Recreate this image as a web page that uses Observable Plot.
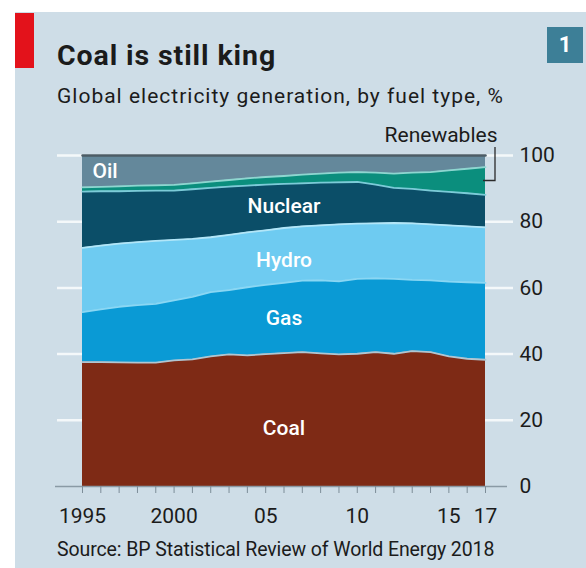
<!DOCTYPE html>
<html><head><meta charset="utf-8">
<script src="https://cdn.jsdelivr.net/npm/d3@7"></script>
<script src="https://cdn.jsdelivr.net/npm/@observablehq/plot@0.6"></script>
<style>
body{margin:0;background:#fff;font-family:Roboto,"Noto Sans",sans-serif;color:#1b1b1b;}
#wrap{position:relative;width:586px;height:568px;overflow:hidden;background:#fff;}
#panel{position:absolute;left:15px;top:12px;right:0;bottom:0;background:#cedde7;}
#redbar{position:absolute;left:15px;top:13px;width:19px;height:55px;background:#e3121b;}
#num{position:absolute;left:547px;top:27px;width:36px;height:36px;background:#3d7f97;color:#fff;font-weight:700;font-size:22px;line-height:36px;text-align:center;}
#title{position:absolute;left:57px;top:42px;font-size:28.5px;font-weight:700;line-height:1;white-space:nowrap;letter-spacing:0.9px;}
#sub{position:absolute;left:57px;top:86px;font-size:21px;line-height:1;white-space:nowrap;letter-spacing:1px;}
#chart{position:absolute;left:0;top:110px;}
#source{position:absolute;left:57px;top:540px;font-size:19.5px;line-height:1;white-space:nowrap;letter-spacing:-0.1px;}
</style></head><body>
<div id="wrap">
<div id="panel"></div>
<div id="redbar"></div>
<div id="num">1</div>
<div id="title">Coal is still king</div>
<div id="sub">Global electricity generation, by fuel type, %</div>
<div id="chart"></div>
<div id="source">Source: BP Statistical Review of World Energy 2018</div>
</div>
<script>
const years = [1995,1996,1997,1998,1999,2000,2001,2002,2003,2004,2005,2006,2007,2008,2009,2010,2011,2012,2013,2014,2015,2016,2017];
const fuels = ["Coal","Gas","Hydro","Nuclear","Renewables","Oil"];
const coal       = [37.6,37.6,37.5,37.4,37.4,38.1,38.4,39.3,39.9,39.6,40.0,40.3,40.6,40.2,39.9,40.1,40.6,40.1,40.9,40.6,39.3,38.6,38.3];
const gas        = [15.1,15.9,16.8,17.4,17.8,18.1,18.9,19.4,19.4,20.6,20.9,21.2,21.6,22.1,22.1,22.6,22.3,22.6,21.5,21.7,22.6,23.1,23.2];
const hydro      = [19.4,19.3,19.1,19.0,19.0,18.3,17.5,16.6,16.7,16.6,16.5,16.6,16.4,16.6,17.2,16.7,16.6,16.9,17.1,16.9,17.0,16.9,16.8];
const nuclear    = [17.0,16.4,15.8,15.5,15.2,14.9,15.0,14.9,14.6,14.1,13.8,13.3,13.0,12.9,12.7,12.6,11.7,10.6,10.4,10.2,10.1,10.0,9.8];
const renewables = [1.3,1.3,1.5,1.6,1.6,1.7,1.8,1.9,2.0,2.2,2.3,2.4,2.6,2.7,2.9,3.0,3.6,4.3,4.9,5.6,6.5,7.4,8.4];
const oil        = [9.6,9.5,9.3,9.1,9.0,8.9,8.4,7.9,7.4,6.9,6.5,6.2,5.8,5.5,5.2,5.0,5.2,5.5,5.2,5.0,4.5,4.0,3.5];
const yTicks = [0,20,40,60,80,100];
const xLabelYears = [1995,2000,2005,2010,2015,2017];
const xLabelText = ["1995","2000","05","10","15","17"];
const bandLabels = ["Oil","Nuclear","Hydro","Gas","Coal"];
const bandLabelYears = [1995,2006,2006,2006,2006];

const fillColors = ["#7e2a15","#0a9ad5","#6ecbf1","#0b4e68","#0b8e7d","#64889b"];
const lineColors = ["#b0c6d2","#8ad7f4","#b2e6f8","#7ccbd8","#8ed6d0","#4c5c66"];

const series = {Coal: coal, Gas: gas, Hydro: hydro, Nuclear: nuclear, Renewables: renewables, Oil: oil};
const rows = [];
years.forEach((yr, i) => {
  let acc = 0;
  fuels.forEach(f => { const v = series[f][i]; rows.push({year: yr, fuel: f, y1: acc, y2: acc + v}); acc += v; });
});
const byFuel = f => rows.filter(d => d.fuel === f);
const labelRows = bandLabels.map((f, k) => {
  const r = rows.find(d => d.fuel === f && d.year === bandLabelYears[k]);
  return {fuel: f, year: r.year, y: (r.y1 + r.y2) / 2};
});
const labelStyle = {Oil: {anchor: "start", dx: 10, dy: 0}, Nuclear: {anchor: "middle", dx: 0, dy: 0}, Hydro: {anchor: "middle", dx: 0, dy: 5}, Gas: {anchor: "middle", dx: 0, dy: 0}, Coal: {anchor: "middle", dx: 0, dy: 8}};
const lastYear = years[years.length - 1];
const renLast = rows.find(d => d.fuel === "Renewables" && d.year === lastYear);
const labelMap = new Map(xLabelYears.map((y, i) => [y, xLabelText[i]]));

const chart = Plot.plot({
  width: 586, height: 430,
  marginLeft: 82, marginRight: 101, marginTop: 45, marginBottom: 54,
  style: {background: "transparent", fontFamily: "Roboto, sans-serif", fontSize: "21px", overflow: "visible"},
  x: {domain: [1995, 2017], axis: null},
  y: {domain: [0, 100], axis: null},
  marks: [
    Plot.ruleY(yTicks.filter(d => d > 0), {stroke: "#f4f8fa", strokeWidth: 2.5, insetLeft: -25, insetRight: -28}),
    ...fuels.map((f, k) => Plot.areaY(byFuel(f), {x: "year", y1: "y1", y2: "y2", fill: fillColors[k]})),
    ...fuels.map((f, k) => Plot.lineY(byFuel(f), {x: "year", y: "y2", stroke: lineColors[k], strokeWidth: f === "Oil" ? 2.5 : 1.8})),
    ...bandLabels.map(f => Plot.text(labelRows.filter(d => d.fuel === f), {x: "year", y: "y", text: "fuel", fill: "white", fontWeight: 500, fontSize: 21, textAnchor: labelStyle[f].anchor, dx: labelStyle[f].dx, dy: labelStyle[f].dy})),
    Plot.ruleY([0], {stroke: "#8a9aa5", strokeWidth: 1.5, insetLeft: -27, insetRight: -22}),
    Plot.axisX({ticks: years, tickSize: 7, tickPadding: 15, tickFormat: d => labelMap.get(d) ?? "", stroke: "#7d8d98", fill: "#1b1b1b", fontSize: 21, label: null}),
    Plot.axisY({anchor: "right", ticks: yTicks, tickSize: 0, tickPadding: 34, fill: "#1b1b1b", fontSize: 21, label: null}),
    Plot.text([renLast], {x: "year", y: () => 100, text: () => "Renewables", textAnchor: "end", dx: 12, dy: -20, fill: "#1b1b1b", fontSize: 21}),
    (index, scales) => {
      const x0 = scales.x(lastYear), ym = scales.y((renLast.y1 + renLast.y2) / 2), yt = scales.y(100) - 8;
      const p = document.createElementNS("http://www.w3.org/2000/svg", "path");
      p.setAttribute("d", `M${x0 - 2},${ym}H${x0 + 10}V${yt}`);
      p.setAttribute("fill", "none"); p.setAttribute("stroke", "#2a2a2a"); p.setAttribute("stroke-width", "1.3");
      const g = document.createElementNS("http://www.w3.org/2000/svg", "g"); g.appendChild(p); return g;
    }
  ]
});
document.getElementById("chart").appendChild(chart);
</script>
</body></html>
